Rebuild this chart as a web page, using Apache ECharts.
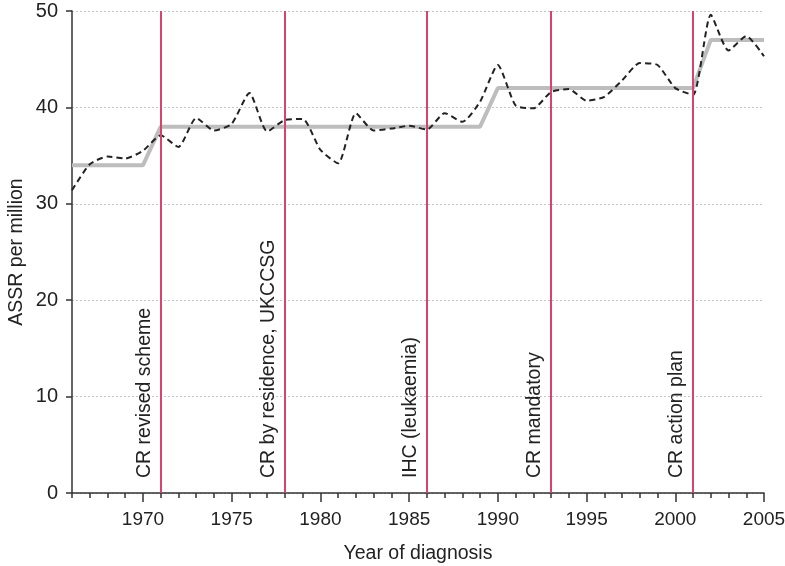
<!DOCTYPE html>
<html><head><meta charset="utf-8">
<script src="https://cdn.jsdelivr.net/npm/echarts@6/dist/echarts.min.js"></script>
<style>html,body{margin:0;padding:0;background:#fff}#c{width:785px;height:566px}</style>
</head><body><div id="c"></div>
<script>
const years = [1966,1967,1968,1969,1970,1971,1972,1973,1974,1975,1976,1977,1978,1979,1980,1981,1982,1983,1984,1985,1986,1987,1988,1989,1990,1991,1992,1993,1994,1995,1996,1997,1998,1999,2000,2001,2002,2003,2004,2005];
const assr = [31.4,34.1,34.9,34.7,35.5,37.1,35.9,38.9,37.6,38.3,41.5,37.5,38.7,38.8,35.6,34.2,39.4,37.6,37.8,38.1,37.7,39.4,38.5,40.6,44.4,40.2,39.9,41.6,41.9,40.7,41.1,42.8,44.6,44.4,42.0,41.3,49.6,45.9,47.4,45.3];
const stepYears = [1966,1970,1971,1989,1990,2001,2002,2005];
const stepValues = [34,34,38,38,42,42,47,47];
const eventYears = [1971,1978,1986,1993,2001];
const eventLabels = ['CR revised scheme','CR by residence, UKCCSG','IHC (leukaemia)','CR mandatory','CR action plan'];
const majorTicks = [1970,1975,1980,1985,1990,1995,2000,2005];

const font = 'Liberation Sans, Arial, sans-serif';
const chart = echarts.init(document.getElementById('c'), null, {renderer:'canvas'});
chart.setOption({
  animation:false,
  backgroundColor:'#fff',
  grid:{left:72,right:21,top:11,bottom:73,containLabel:false,outerBoundsMode:'none'},
  xAxis:[{
    type:'value',min:1966,max:2005,interval:1,
    name:'Year of diagnosis',nameLocation:'middle',nameGap:51,nameMoveOverlap:false,
    nameTextStyle:{fontFamily:font,fontSize:19.5,color:'#222'},
    axisLine:{lineStyle:{color:'#333',width:1.5}},
    axisTick:{show:true,length:5,lineStyle:{color:'#333',width:1.5}},
    axisLabel:{customValues:majorTicks,formatter:v=>String(v),fontFamily:font,fontSize:19,color:'#222',margin:17},
    splitLine:{show:false}
  },{
    type:'value',min:1966,max:2005,position:'bottom',
    axisLine:{show:false},
    axisTick:{show:true,customValues:majorTicks,length:9,lineStyle:{color:'#333',width:1.5}},
    axisLabel:{show:false},
    splitLine:{show:false}
  }],
  yAxis:{
    type:'value',min:0,max:50,interval:10,
    name:'ASSR per million',nameLocation:'middle',nameGap:45,nameRotate:90,nameMoveOverlap:false,
    nameTextStyle:{fontFamily:font,fontSize:19.5,color:'#222'},
    axisLine:{show:true,lineStyle:{color:'#333',width:1.5}},
    axisTick:{show:true,length:6,lineStyle:{color:'#333',width:1.5}},
    axisLabel:{fontFamily:font,fontSize:20,color:'#222',margin:14},
    splitLine:{show:true,lineStyle:{color:'#c4c4c4',type:[2,2],width:1}}
  },
  series:[
    {
      type:'line',name:'events',data:[],z:1,silent:true,
      markLine:{
        symbol:'none',silent:true,animation:false,
        lineStyle:{color:'#d6436c',width:2,type:'solid'},
        label:{show:true,position:'insideStartTop',distance:[15,6],formatter:p=>p.name,
          fontFamily:font,fontSize:19.5,color:'#222'},
        data:eventYears.map((y,i)=>({xAxis:y,name:eventLabels[i]}))
      }
    },
    {
      type:'line',name:'step',data:stepYears.map((y,i)=>[y,stepValues[i]]),
      symbol:'none',z:3,lineStyle:{color:'#bdbdbd',width:4}
    },
    {
      type:'line',name:'ASSR',data:years.map((y,i)=>[y,assr[i]]),
      symbol:'none',smooth:0.2,z:4,lineStyle:{color:'#222',width:2,type:[6,4]}
    }
  ]
});
</script></body></html>
